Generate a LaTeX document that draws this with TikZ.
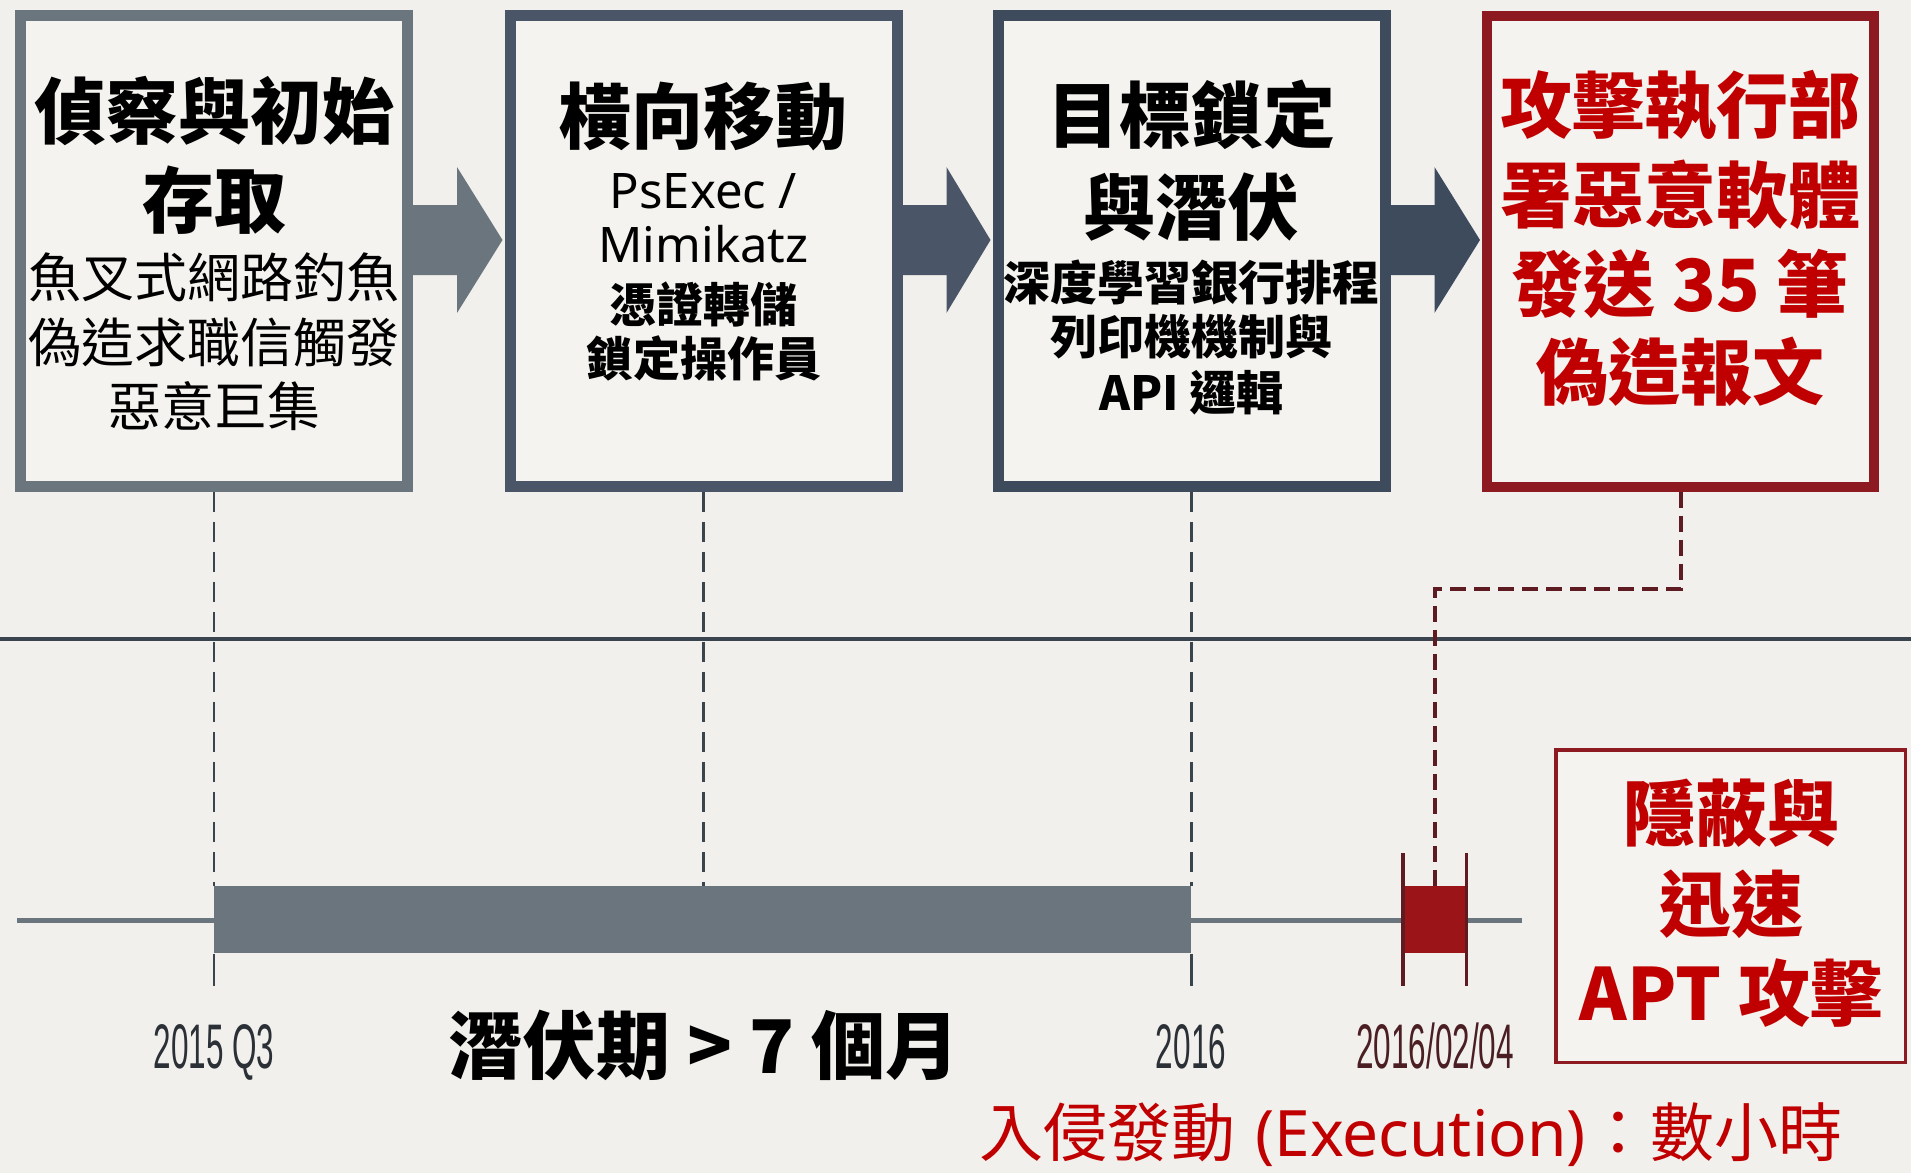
\documentclass[tikz,border=0pt]{standalone}
\usepackage{fontspec}
\usetikzlibrary{calc}
\newfontfamily\cjk{Noto Sans CJK TC}
\newfontfamily\lat{Noto Sans}
\newfontfamily\narrow[FakeStretch=0.5]{Liberation Sans}
\definecolor{bg}{HTML}{F1F0EC}
\definecolor{boxfill}{HTML}{F4F3EF}
\definecolor{greyA}{HTML}{6A757E}
\definecolor{slateB}{HTML}{4A5667}
\definecolor{slateC}{HTML}{3E4B5D}
\definecolor{redB}{HTML}{8C1A20}
\definecolor{redT}{HTML}{C00000}
\definecolor{redBar}{HTML}{9A1418}
\definecolor{redD}{HTML}{5E1C22}
\definecolor{lineD}{HTML}{3A444E}
\definecolor{dateG}{HTML}{2B3036}
\definecolor{dateR}{HTML}{4A1E22}
\begin{document}
\begin{tikzpicture}[x=0.5pt,y=-0.5pt,
  stagebox/.style={draw, line width=5.5pt, fill=boxfill, minimum width=193.5pt, minimum height=235.5pt, inner sep=0pt},
  ttl/.style={inner sep=0pt, font=\cjk\bfseries\fontsize{36}{40}\selectfont},
  ttlr/.style={ttl, text=redT},
  subA/.style={inner sep=0pt, font=\cjk\fontsize{26.5}{30}\selectfont},
  subB/.style={inner sep=0pt, font=\cjk\bfseries\fontsize{23.5}{27}\selectfont},
  latsub/.style={inner sep=0pt, anchor=base, font=\lat\fontsize{24.5}{28}\selectfont},
  datelbl/.style={inner sep=0pt, anchor=base, font=\narrow\fontsize{31.5}{34}\selectfont, text=dateG},
  gdash/.style={draw=lineD, line width=1.4pt, dash pattern=on 10pt off 5pt},
  gtick/.style={draw=lineD, line width=1.4pt},
  rtick/.style={draw=redD, line width=1.6pt},
  rdash/.style={draw=redD, line width=2pt, dash pattern=on 8pt off 4pt},
  barbox/.style={inner sep=0pt, anchor=north west, minimum height=33.5pt}
]
\fill[bg] (0,0) rectangle (1911,1173);
\useasboundingbox (0,0) rectangle (1911,1173);

% stage boxes
\node[stagebox, draw=greyA] (b1) at (214,251) {};
\node[stagebox, draw=slateB] (b2) at (703.5,251) {};
\node[stagebox, draw=slateC] (b3) at (1191.5,251) {};
\node[stagebox, draw=redB, line width=5pt] (b4) at (1680.5,251) {};

% block arrows
\newcommand{\blockarrow}[3]{%
  \fill[#3] ($(#1.east)+(0,-46)$) -- ($(#1.east)+(44,-46)$) -- ($(#1.east)+(44,-84)$)
    -- ($(#2.west)+(-2,-11)$) -- ($(#1.east)+(44,62)$) -- ($(#1.east)+(44,24)$)
    -- ($(#1.east)+(0,24)$) -- cycle;}
\blockarrow{b1}{b2}{greyA}
\blockarrow{b2}{b3}{slateB}
\blockarrow{b3}{b4}{slateC}

% box 1 text
\node[ttl] (b1a) at (214,111) {偵察與初始};
\node[ttl] (b1b) at (214,200) {存取};
\node[subA] (b1c) at (214,277) {魚叉式網路釣魚};
\node[subA] (b1d) at (214,342) {偽造求職信觸發};
\node[subA] (b1e) at (214,406) {惡意巨集};

% box 2 text
\node[ttl] (b2a) at (703.5,116) {橫向移動};
\node[latsub] (b2b) at (703.5,208) {PsExec /};
\node[latsub] (b2c) at (703.5,262) {Mimikatz};
\node[subB] (b2d) at (703.5,304) {憑證轉儲};
\node[subB] (b2e) at (703.5,358) {鎖定操作員};

% box 3 text
\node[ttl] (b3a) at (1191.5,115) {目標鎖定};
\node[ttl] (b3b) at (1191.5,207) {與潛伏};
\node[subB] (b3c) at (1191.5,282) {深度學習銀行排程};
\node[subB] (b3d) at (1191.5,337) {列印機機制與};
\node[subB] (b3e) at (1191.5,393) {API 邏輯};

% box 4 text
\node[ttlr] (b4a) at (1680,106) {攻擊執行部};
\node[ttlr] (b4b) at (1680,195) {署惡意軟體};
\node[ttlr] (b4c) at (1680,284) {發送 35 筆};
\node[ttlr] (b4d) at (1680,372) {偽造報文};

% timeline
\coordinate (midL) at (0,639);
\coordinate (midR) at (1911,639);
\draw[lineD, line width=1.75pt] (midL) -- (midR);
\coordinate (tlL) at (17,920);
\coordinate (tlR) at (1522,920);
\draw[greyA, line width=2.5pt] (tlL) -- (tlR);
\node[barbox, fill=greyA, minimum width=488.5pt] (latent) at (214,886) {};
\node[barbox, fill=redBar, minimum width=31.5pt] (exec) at (1403,886) {};

% dashed guides
\draw[gdash] (b1.south) -- (b1.south |- latent.north);
\draw[gdash] (b2.south) -- (b2.south |- latent.north);
\draw[gdash] (b3.south) -- (b3.south |- latent.north);
\draw[gtick] (latent.south west) -- ++(0,32);
\draw[gtick] (latent.south east) -- ++(0,32);
\draw[rtick] ($(exec.north west)+(0,-33)$) -- ($(exec.south west)+(0,32)$);
\draw[rtick] ($(exec.north east)+(0,-33)$) -- ($(exec.south east)+(0,32)$);
\draw[rdash] (b4.south) -- ++(0,97) -| (exec.north);

% labels
\node[datelbl] (d1) at (214,1068) {2015 Q3};
\node[datelbl] (d2) at (1191,1068) {2016};
\node[datelbl, text=dateR] (d3) at (1435,1068) {2016/02/04};
\node[inner sep=0pt, font=\cjk\bfseries\fontsize{37}{42}\selectfont] (lat) at (704,1045) {潛伏期 > 7 個月};
\node[inner sep=0pt, anchor=base, text=redT, font=\fontsize{32}{36}\selectfont] (execlbl) at (1411,1156)
  {{\cjk 入侵發動} {\lat (Execution)}{\cjk ：數小時}};

% stealth box
\node[draw=redB, line width=1.75pt, fill=boxfill, minimum width=174.75pt, minimum height=156.25pt, inner sep=0pt] (stealth) at (1730.5,906) {};
\node[ttlr] (s1) at (1731,813) {隱蔽與};
\node[ttlr] (s2) at (1731,904) {迅速};
\node[ttlr] (s3) at (1731,993) {APT 攻擊};
\end{tikzpicture}
\end{document}
